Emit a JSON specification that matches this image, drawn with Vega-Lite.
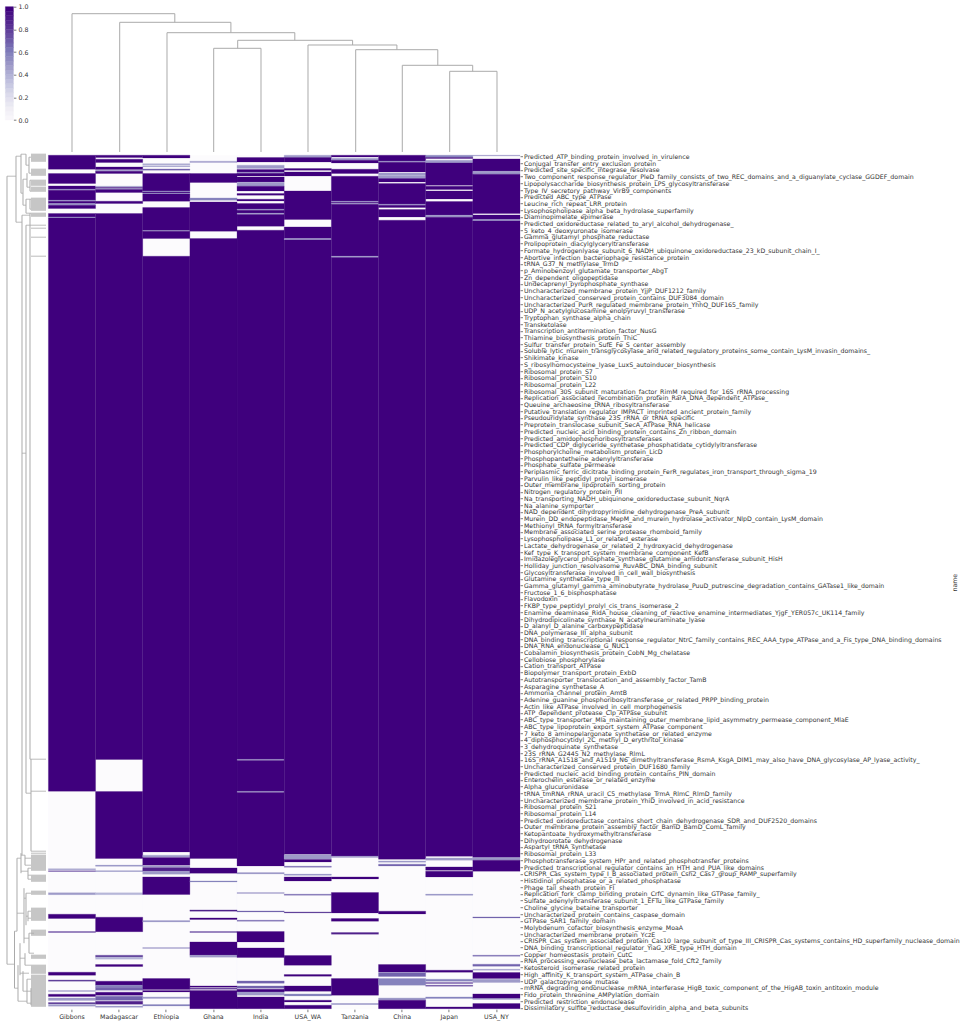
{"$schema":"https://vega.github.io/schema/vega-lite/v6.json","background":"white","padding":{"left":4.4,"top":3.7,"right":0,"bottom":0},"spacing":-1.5,"config":{"view":{"stroke":null},"font":"DejaVu Sans","axis":{"labelFont":"DejaVu Sans","labelColor":"#333333","tickColor":"#444444","tickWidth":0.7,"domain":false,"grid":false}},
"datasets":{"cells":[
{"s":"Gibbons","a":0,"b":854,"v":0},{"s":"Madagascar","a":0,"b":854,"v":0},{"s":"Ethiopia","a":0,"b":854,"v":0},{"s":"Ghana","a":0,"b":854,"v":0},{"s":"India","a":0,"b":854,"v":0},{"s":"USA_WA","a":0,"b":854,"v":0},{"s":"Tanzania","a":0,"b":854,"v":0},{"s":"China","a":0,"b":854,"v":0},{"s":"Japan","a":0,"b":854,"v":0},{"s":"USA_NY","a":0,"b":854,"v":0},
{"s":"Gibbons","a":0,"b":14,"v":1},{"s":"Gibbons","a":18.3,"b":28.3,"v":1},{"s":"Gibbons","a":30.7,"b":34,"v":1},{"s":"Gibbons","a":34,"b":35,"v":0.5},{"s":"Gibbons","a":35,"b":45,"v":1},{"s":"Gibbons","a":45,"b":46,"v":0.5},{"s":"Gibbons","a":46,"b":48.3,"v":1},{"s":"Gibbons","a":48.3,"b":50,"v":0.5},{"s":"Gibbons","a":50,"b":53.3,"v":1},{"s":"Gibbons","a":58.3,"b":61.7,"v":1},{"s":"Gibbons","a":61.7,"b":62.7,"v":0.5},{"s":"Gibbons","a":62.7,"b":636,"v":1},{"s":"Gibbons","a":713.5,"b":714.5,"v":0.5},{"s":"Gibbons","a":715.5,"b":716.3,"v":0.8},{"s":"Gibbons","a":737.5,"b":739.5,"v":0.5},{"s":"Gibbons","a":759,"b":763.3,"v":1},{"s":"Gibbons","a":776.3,"b":777.3,"v":0.8},{"s":"Gibbons","a":817,"b":820,"v":1},{"s":"Gibbons","a":824.7,"b":826,"v":0.8},{"s":"Gibbons","a":835.3,"b":836.3,"v":0.5},{"s":"Gibbons","a":839,"b":841.3,"v":1},{"s":"Gibbons","a":842.7,"b":845.3,"v":0.5},{"s":"Gibbons","a":847.3,"b":848.7,"v":0.8},{"s":"Gibbons","a":849.3,"b":851,"v":0.5},
{"s":"Madagascar","a":0,"b":2.3,"v":1},{"s":"Madagascar","a":4,"b":7.3,"v":1},{"s":"Madagascar","a":11.7,"b":14.3,"v":1},{"s":"Madagascar","a":15,"b":16,"v":0.5},{"s":"Madagascar","a":16,"b":18.3,"v":1},{"s":"Madagascar","a":31,"b":32,"v":0.5},{"s":"Madagascar","a":32.3,"b":33.3,"v":1},{"s":"Madagascar","a":33.3,"b":34.3,"v":0.5},{"s":"Madagascar","a":34.3,"b":37.3,"v":1},{"s":"Madagascar","a":46,"b":48.3,"v":1},{"s":"Madagascar","a":58.3,"b":604.3,"v":1},{"s":"Madagascar","a":636.3,"b":703.3,"v":1},{"s":"Madagascar","a":710,"b":711,"v":0.6},{"s":"Madagascar","a":715.5,"b":716.3,"v":0.6},{"s":"Madagascar","a":737.5,"b":739.5,"v":0.4},{"s":"Madagascar","a":762,"b":776.5,"v":1},{"s":"Madagascar","a":800,"b":802,"v":0.8},{"s":"Madagascar","a":802,"b":804,"v":0.4},{"s":"Madagascar","a":809.3,"b":811.3,"v":1},{"s":"Madagascar","a":826,"b":830,"v":1},{"s":"Madagascar","a":830,"b":832,"v":0.6},{"s":"Madagascar","a":832,"b":835,"v":0.7},{"s":"Madagascar","a":837,"b":840,"v":1},{"s":"Madagascar","a":841,"b":845,"v":0.7},{"s":"Madagascar","a":846,"b":849,"v":0.9},{"s":"Madagascar","a":851,"b":852,"v":0.6},
{"s":"Ethiopia","a":0,"b":2.7,"v":1},{"s":"Ethiopia","a":8.5,"b":9.5,"v":0.5},{"s":"Ethiopia","a":10.5,"b":11.5,"v":0.5},{"s":"Ethiopia","a":13.7,"b":15,"v":0.7},{"s":"Ethiopia","a":18.3,"b":35.7,"v":1},{"s":"Ethiopia","a":35.7,"b":36.7,"v":0.5},{"s":"Ethiopia","a":36.7,"b":37.7,"v":1},{"s":"Ethiopia","a":37.7,"b":38.7,"v":0.5},{"s":"Ethiopia","a":38.7,"b":46,"v":1},{"s":"Ethiopia","a":52.3,"b":75.3,"v":1},{"s":"Ethiopia","a":75.3,"b":76,"v":0.5},{"s":"Ethiopia","a":76,"b":83.3,"v":1},{"s":"Ethiopia","a":101,"b":696.7,"v":1},{"s":"Ethiopia","a":700,"b":701.7,"v":0.5},{"s":"Ethiopia","a":702.3,"b":710,"v":1},{"s":"Ethiopia","a":710.7,"b":711.7,"v":0.5},{"s":"Ethiopia","a":712.3,"b":716,"v":0.9},{"s":"Ethiopia","a":716,"b":719,"v":0.5},{"s":"Ethiopia","a":721.7,"b":739.3,"v":1},{"s":"Ethiopia","a":765.3,"b":766.7,"v":0.5},{"s":"Ethiopia","a":792.3,"b":793.3,"v":0.5},{"s":"Ethiopia","a":823.3,"b":834.3,"v":1},{"s":"Ethiopia","a":835.3,"b":836.7,"v":1},{"s":"Ethiopia","a":841.7,"b":843.3,"v":0.5},{"s":"Ethiopia","a":849.3,"b":850.7,"v":0.6},
{"s":"Ghana","a":6,"b":7.3,"v":0.5},{"s":"Ghana","a":18.3,"b":27.3,"v":1},{"s":"Ghana","a":42.7,"b":45,"v":0.6},{"s":"Ghana","a":46.7,"b":76,"v":1},{"s":"Ghana","a":83.3,"b":703.3,"v":1},{"s":"Ghana","a":712.7,"b":718,"v":1},{"s":"Ghana","a":725.7,"b":726.7,"v":0.6},{"s":"Ghana","a":754.7,"b":756,"v":0.9},{"s":"Ghana","a":762.7,"b":764.3,"v":1},{"s":"Ghana","a":776.3,"b":777.3,"v":0.8},{"s":"Ghana","a":786.7,"b":800,"v":1},{"s":"Ghana","a":800,"b":802,"v":0.5},{"s":"Ghana","a":830.7,"b":832,"v":1},{"s":"Ghana","a":833,"b":834,"v":0.9},{"s":"Ghana","a":835.3,"b":853.5,"v":1},
{"s":"India","a":2.3,"b":6.7,"v":1},{"s":"India","a":10,"b":13.3,"v":0.5},{"s":"India","a":14.3,"b":17,"v":1},{"s":"India","a":17,"b":18,"v":0.5},{"s":"India","a":18,"b":20.7,"v":1},{"s":"India","a":21.7,"b":26.7,"v":1},{"s":"India","a":27,"b":31,"v":0.5},{"s":"India","a":31,"b":35.7,"v":1},{"s":"India","a":38.3,"b":40,"v":1},{"s":"India","a":44,"b":45.7,"v":1},{"s":"India","a":48.3,"b":54,"v":1},{"s":"India","a":54,"b":55,"v":0.5},{"s":"India","a":55,"b":58,"v":1},{"s":"India","a":58,"b":59.3,"v":0.5},{"s":"India","a":59.3,"b":71,"v":1},{"s":"India","a":75,"b":604.2,"v":1},{"s":"India","a":604.2,"b":605.2,"v":0.5},{"s":"India","a":605.2,"b":636.2,"v":1},{"s":"India","a":636.2,"b":637.2,"v":0.5},{"s":"India","a":637.2,"b":710.7,"v":1},{"s":"India","a":717.3,"b":718.7,"v":0.5},{"s":"India","a":737.3,"b":738.3,"v":0.5},{"s":"India","a":755.7,"b":756.7,"v":0.7},{"s":"India","a":765,"b":766,"v":0.7},{"s":"India","a":776.3,"b":786.7,"v":1},{"s":"India","a":792.7,"b":802.3,"v":1},{"s":"India","a":825.7,"b":828,"v":0.7},{"s":"India","a":830.7,"b":833,"v":0.7},{"s":"India","a":834,"b":836.7,"v":1},{"s":"India","a":836.7,"b":840,"v":0.5},{"s":"India","a":841.7,"b":853.5,"v":1},
{"s":"USA_WA","a":0,"b":2.3,"v":0.5},{"s":"USA_WA","a":2.3,"b":6.7,"v":1},{"s":"USA_WA","a":13.3,"b":15,"v":1},{"s":"USA_WA","a":16.7,"b":20.7,"v":1},{"s":"USA_WA","a":35.7,"b":64.3,"v":1},{"s":"USA_WA","a":71.7,"b":83.3,"v":1},{"s":"USA_WA","a":83.3,"b":84.7,"v":0.5},{"s":"USA_WA","a":84.7,"b":699,"v":1},{"s":"USA_WA","a":699.5,"b":704,"v":0.5},{"s":"USA_WA","a":704.3,"b":706.7,"v":1},{"s":"USA_WA","a":711,"b":712,"v":0.7},{"s":"USA_WA","a":719,"b":720,"v":0.6},{"s":"USA_WA","a":721.7,"b":725.7,"v":1},{"s":"USA_WA","a":739,"b":740,"v":0.7},{"s":"USA_WA","a":756.7,"b":757.7,"v":0.8},{"s":"USA_WA","a":800.3,"b":810,"v":1},{"s":"USA_WA","a":819.3,"b":821,"v":1},{"s":"USA_WA","a":830.7,"b":836,"v":1},{"s":"USA_WA","a":838.7,"b":840.7,"v":0.6},{"s":"USA_WA","a":845,"b":846.7,"v":1},{"s":"USA_WA","a":850,"b":853.5,"v":1},
{"s":"Tanzania","a":0,"b":1.7,"v":1},{"s":"Tanzania","a":3,"b":5,"v":0.5},{"s":"Tanzania","a":5,"b":7.7,"v":1},{"s":"Tanzania","a":14,"b":18.3,"v":1},{"s":"Tanzania","a":21,"b":46,"v":1},{"s":"Tanzania","a":46,"b":47,"v":0.5},{"s":"Tanzania","a":47,"b":48,"v":1},{"s":"Tanzania","a":48,"b":49,"v":0.5},{"s":"Tanzania","a":49,"b":101,"v":1},{"s":"Tanzania","a":101,"b":102.3,"v":0.5},{"s":"Tanzania","a":102.3,"b":701,"v":1},{"s":"Tanzania","a":701,"b":702.3,"v":0.5},{"s":"Tanzania","a":721.7,"b":723.7,"v":1},{"s":"Tanzania","a":737.3,"b":757.7,"v":1},{"s":"Tanzania","a":763.3,"b":766,"v":1},{"s":"Tanzania","a":777.3,"b":779,"v":0.9},{"s":"Tanzania","a":823.3,"b":840,"v":1},{"s":"Tanzania","a":848.3,"b":849.3,"v":0.6},
{"s":"China","a":0,"b":6,"v":1},{"s":"China","a":6,"b":7,"v":0.5},{"s":"China","a":7,"b":16.7,"v":1},{"s":"China","a":17.7,"b":20,"v":0.5},{"s":"China","a":20.3,"b":23.3,"v":0.5},{"s":"China","a":23.3,"b":26.7,"v":1},{"s":"China","a":28.3,"b":49,"v":1},{"s":"China","a":49,"b":50,"v":0.5},{"s":"China","a":50,"b":52.3,"v":1},{"s":"China","a":54.3,"b":61.7,"v":1},{"s":"China","a":65,"b":704,"v":1},{"s":"China","a":705.7,"b":707,"v":0.5},{"s":"China","a":709,"b":710.7,"v":0.7},{"s":"China","a":756,"b":758.7,"v":1},{"s":"China","a":809.3,"b":816.7,"v":1},{"s":"China","a":817.3,"b":821.3,"v":0.7},{"s":"China","a":823.3,"b":830,"v":0.6},{"s":"China","a":842.7,"b":845,"v":0.5},{"s":"China","a":845,"b":853.5,"v":1},
{"s":"Japan","a":0,"b":2.3,"v":0.6},{"s":"Japan","a":2.3,"b":3.3,"v":1},{"s":"Japan","a":5,"b":7.7,"v":0.5},{"s":"Japan","a":7.7,"b":30,"v":1},{"s":"Japan","a":31,"b":34.3,"v":1},{"s":"Japan","a":35.7,"b":43.7,"v":1},{"s":"Japan","a":46.3,"b":60,"v":1},{"s":"Japan","a":60,"b":62,"v":0.5},{"s":"Japan","a":62,"b":701,"v":1},{"s":"Japan","a":702.7,"b":705,"v":0.5},{"s":"Japan","a":711.7,"b":715,"v":1},{"s":"Japan","a":716,"b":721.7,"v":1},{"s":"Japan","a":739,"b":740,"v":0.6},{"s":"Japan","a":815,"b":817,"v":1},{"s":"Japan","a":824,"b":826,"v":0.6},{"s":"Japan","a":827.3,"b":828.3,"v":0.8},{"s":"Japan","a":830,"b":831,"v":0.8},{"s":"Japan","a":841.7,"b":843.3,"v":0.6},{"s":"Japan","a":851.7,"b":853.5,"v":1},
{"s":"USA_NY","a":0,"b":0.7,"v":0.5},{"s":"USA_NY","a":3.7,"b":16,"v":1},{"s":"USA_NY","a":16,"b":19,"v":0.5},{"s":"USA_NY","a":19,"b":58.3,"v":1},{"s":"USA_NY","a":59.7,"b":64.3,"v":1},{"s":"USA_NY","a":64.3,"b":65.7,"v":0.5},{"s":"USA_NY","a":65.7,"b":702.3,"v":1},{"s":"USA_NY","a":702.3,"b":705,"v":0.5},{"s":"USA_NY","a":705,"b":716,"v":1},{"s":"USA_NY","a":761.7,"b":762.7,"v":0.7},{"s":"USA_NY","a":800,"b":801,"v":0.7},{"s":"USA_NY","a":809,"b":811,"v":0.7},{"s":"USA_NY","a":814,"b":815,"v":0.5},{"s":"USA_NY","a":817.3,"b":823.3,"v":1},{"s":"USA_NY","a":824,"b":827.3,"v":0.5},{"s":"USA_NY","a":838.7,"b":843.3,"v":1},{"s":"USA_NY","a":843.3,"b":844.3,"v":0.5},{"s":"USA_NY","a":848.3,"b":853.5,"v":1}
],
"names":[{"name":"Predicted_ATP_binding_protein_involved_in_virulence"},{"name":"Conjugal_transfer_entry_exclusion_protein"},{"name":"Predicted_site_specific_integrase_resolvase"},{"name":"Two_component_response_regulator_PleD_family_consists_of_two_REC_domains_and_a_diguanylate_cyclase_GGDEF_domain"},{"name":"Lipopolysaccharide_biosynthesis_protein_LPS_glycosyltransferase"},{"name":"Type_IV_secretory_pathway_VirB9_components"},{"name":"Predicted_ABC_type_ATPase"},{"name":"Leucine_rich_repeat_LRR_protein"},{"name":"Lysophospholipase_alpha_beta_hydrolase_superfamily"},{"name":"Diaminopimelate_epimerase"},{"name":"Predicted_oxidoreductase_related_to_aryl_alcohol_dehydrogenase_"},{"name":"5_keto_4_deoxyuronate_isomerase"},{"name":"Gamma_glutamyl_phosphate_reductase"},{"name":"Prolipoprotein_diacylglyceryltransferase"},{"name":"Formate_hydrogenlyase_subunit_6_NADH_ubiquinone_oxidoreductase_23_kD_subunit_chain_I_"},{"name":"Abortive_infection_bacteriophage_resistance_protein"},{"name":"tRNA_G37_N_methylase_TrmD"},{"name":"p_Aminobenzoyl_glutamate_transporter_AbgT"},{"name":"Zn_dependent_oligopeptidase"},{"name":"Undecaprenyl_pyrophosphate_synthase"},{"name":"Uncharacterized_membrane_protein_YjjP_DUF1212_family"},{"name":"Uncharacterized_conserved_protein_contains_DUF3084_domain"},{"name":"Uncharacterized_PurR_regulated_membrane_protein_YhhQ_DUF165_family"},{"name":"UDP_N_acetylglucosamine_enolpyruvyl_transferase"},{"name":"Tryptophan_synthase_alpha_chain"},{"name":"Transketolase"},{"name":"Transcription_antitermination_factor_NusG"},{"name":"Thiamine_biosynthesis_protein_ThiC"},{"name":"Sulfur_transfer_protein_SufE_Fe_S_center_assembly"},{"name":"Soluble_lytic_murein_transglycosylase_and_related_regulatory_proteins_some_contain_LysM_invasin_domains_"},{"name":"Shikimate_kinase"},{"name":"S_ribosylhomocysteine_lyase_LuxS_autoinducer_biosynthesis"},{"name":"Ribosomal_protein_S7"},{"name":"Ribosomal_protein_S10"},{"name":"Ribosomal_protein_L22"},{"name":"Ribosomal_30S_subunit_maturation_factor_RimM_required_for_16S_rRNA_processing"},{"name":"Replication_associated_recombination_protein_RarA_DNA_dependent_ATPase_"},{"name":"Queuine_archaeosine_tRNA_ribosyltransferase"},{"name":"Putative_translation_regulator_IMPACT_imprinted_ancient_protein_family"},{"name":"Pseudouridylate_synthase_23S_rRNA_or_tRNA_specific"},{"name":"Preprotein_translocase_subunit_SecA_ATPase_RNA_helicase"},{"name":"Predicted_nucleic_acid_binding_protein_contains_Zn_ribbon_domain"},{"name":"Predicted_amidophosphoribosyltransferases"},{"name":"Predicted_CDP_diglyceride_synthetase_phosphatidate_cytidylyltransferase"},{"name":"Phosphorylcholine_metabolism_protein_LicD"},{"name":"Phosphopantetheine_adenylyltransferase"},{"name":"Phosphate_sulfate_permease"},{"name":"Periplasmic_ferric_dicitrate_binding_protein_FerR_regulates_iron_transport_through_sigma_19"},{"name":"Parvulin_like_peptidyl_prolyl_isomerase"},{"name":"Outer_membrane_lipoprotein_sorting_protein"},{"name":"Nitrogen_regulatory_protein_PII"},{"name":"Na_transporting_NADH_ubiquinone_oxidoreductase_subunit_NqrA"},{"name":"Na_alanine_symporter"},{"name":"NAD_dependent_dihydropyrimidine_dehydrogenase_PreA_subunit"},{"name":"Murein_DD_endopeptidase_MepM_and_murein_hydrolase_activator_NlpD_contain_LysM_domain"},{"name":"Methionyl_tRNA_formyltransferase"},{"name":"Membrane_associated_serine_protease_rhomboid_family"},{"name":"Lysophospholipase_L1_or_related_esterase"},{"name":"Lactate_dehydrogenase_or_related_2_hydroxyacid_dehydrogenase"},{"name":"Kef_type_K_transport_system_membrane_component_KefB"},{"name":"Imidazoleglycerol_phosphate_synthase_glutamine_amidotransferase_subunit_HisH"},{"name":"Holliday_junction_resolvasome_RuvABC_DNA_binding_subunit"},{"name":"Glycosyltransferase_involved_in_cell_wall_biosynthesis"},{"name":"Glutamine_synthetase_type_III"},{"name":"Gamma_glutamyl_gamma_aminobutyrate_hydrolase_PuuD_putrescine_degradation_contains_GATase1_like_domain"},{"name":"Fructose_1_6_bisphosphatase"},{"name":"Flavodoxin"},{"name":"FKBP_type_peptidyl_prolyl_cis_trans_isomerase_2"},{"name":"Enamine_deaminase_RidA_house_cleaning_of_reactive_enamine_intermediates_YjgF_YER057c_UK114_family"},{"name":"Dihydrodipicolinate_synthase_N_acetylneuraminate_lyase"},{"name":"D_alanyl_D_alanine_carboxypeptidase"},{"name":"DNA_polymerase_III_alpha_subunit"},{"name":"DNA_binding_transcriptional_response_regulator_NtrC_family_contains_REC_AAA_type_ATPase_and_a_Fis_type_DNA_binding_domains"},{"name":"DNA_RNA_endonuclease_G_NUC1"},{"name":"Cobalamin_biosynthesis_protein_CobN_Mg_chelatase"},{"name":"Cellobiose_phosphorylase"},{"name":"Cation_transport_ATPase"},{"name":"Biopolymer_transport_protein_ExbD"},{"name":"Autotransporter_translocation_and_assembly_factor_TamB"},{"name":"Asparagine_synthetase_A"},{"name":"Ammonia_channel_protein_AmtB"},{"name":"Adenine_guanine_phosphoribosyltransferase_or_related_PRPP_binding_protein"},{"name":"Actin_like_ATPase_involved_in_cell_morphogenesis"},{"name":"ATP_dependent_protease_Clp_ATPase_subunit"},{"name":"ABC_type_transporter_Mla_maintaining_outer_membrane_lipid_asymmetry_permease_component_MlaE"},{"name":"ABC_type_lipoprotein_export_system_ATPase_component"},{"name":"7_keto_8_aminopelargonate_synthetase_or_related_enzyme"},{"name":"4_diphosphocytidyl_2C_methyl_D_erythritol_kinase"},{"name":"3_dehydroquinate_synthetase"},{"name":"23S_rRNA_G2445_N2_methylase_RlmL"},{"name":"16S_rRNA_A1518_and_A1519_N6_dimethyltransferase_RsmA_KsgA_DIM1_may_also_have_DNA_glycosylase_AP_lyase_activity_"},{"name":"Uncharacterized_conserved_protein_DUF1680_family"},{"name":"Predicted_nucleic_acid_binding_protein_contains_PIN_domain"},{"name":"Enterochelin_esterase_or_related_enzyme"},{"name":"Alpha_glucuronidase"},{"name":"tRNA_tmRNA_rRNA_uracil_C5_methylase_TrmA_RlmC_RlmD_family"},{"name":"Uncharacterized_membrane_protein_YhiD_involved_in_acid_resistance"},{"name":"Ribosomal_protein_S21"},{"name":"Ribosomal_protein_L14"},{"name":"Predicted_oxidoreductase_contains_short_chain_dehydrogenase_SDR_and_DUF2520_domains"},{"name":"Outer_membrane_protein_assembly_factor_BamD_BamD_ComL_family"},{"name":"Ketopantoate_hydroxymethyltransferase"},{"name":"Dihydroorotate_dehydrogenase"},{"name":"Aspartyl_tRNA_synthetase"},{"name":"Ribosomal_protein_L33"},{"name":"Phosphotransferase_system_HPr_and_related_phosphotransfer_proteins"},{"name":"Predicted_transcriptional_regulator_contains_an_HTH_and_PUA_like_domains"},{"name":"CRISPR_Cas_system_type_I_B_associated_protein_Csh2_Cas7_group_RAMP_superfamily"},{"name":"Histidinol_phosphatase_or_a_related_phosphatase"},{"name":"Phage_tail_sheath_protein_FI"},{"name":"Replication_fork_clamp_binding_protein_CrfC_dynamin_like_GTPase_family_"},{"name":"Sulfate_adenylyltransferase_subunit_1_EFTu_like_GTPase_family"},{"name":"Choline_glycine_betaine_transporter"},{"name":"Uncharacterized_protein_contains_caspase_domain"},{"name":"GTPase_SAR1_family_domain"},{"name":"Molybdenum_cofactor_biosynthesis_enzyme_MoaA"},{"name":"Uncharacterized_membrane_protein_YczE"},{"name":"CRISPR_Cas_system_associated_protein_Cas10_large_subunit_of_type_III_CRISPR_Cas_systems_contains_HD_superfamily_nuclease_domain"},{"name":"DNA_binding_transcriptional_regulator_YiaG_XRE_type_HTH_domain"},{"name":"Copper_homeostasis_protein_CutC"},{"name":"RNA_processing_exonuclease_beta_lactamase_fold_Cft2_family"},{"name":"Ketosteroid_isomerase_related_protein"},{"name":"High_affinity_K_transport_system_ATPase_chain_B"},{"name":"UDP_galactopyranose_mutase"},{"name":"mRNA_degrading_endonuclease_mRNA_interferase_HigB_toxic_component_of_the_HigAB_toxin_antitoxin_module"},{"name":"Fido_protein_threonine_AMPylation_domain"},{"name":"Predicted_restriction_endonuclease"},{"name":"Dissimilatory_sulfite_reductase_desulfoviridin_alpha_and_beta_subunits"}],
"scale":[{"a":0,"b":0.04},{"a":0.04,"b":0.08},{"a":0.08,"b":0.12},{"a":0.12,"b":0.16},{"a":0.16,"b":0.2},{"a":0.2,"b":0.24},{"a":0.24,"b":0.28},{"a":0.28,"b":0.32},{"a":0.32,"b":0.36},{"a":0.36,"b":0.4},{"a":0.4,"b":0.44},{"a":0.44,"b":0.48},{"a":0.48,"b":0.52},{"a":0.52,"b":0.56},{"a":0.56,"b":0.6},{"a":0.6,"b":0.64},{"a":0.64,"b":0.68},{"a":0.68,"b":0.72},{"a":0.72,"b":0.76},{"a":0.76,"b":0.8},{"a":0.8,"b":0.84},{"a":0.84,"b":0.88},{"a":0.88,"b":0.92},{"a":0.92,"b":0.96},{"a":0.96,"b":1}],
"colV":[{"x":70.6,"a":13.7,"b":152},{"x":173.4,"a":13.7,"b":22.3},{"x":118.3,"a":22.3,"b":152},{"x":229.5,"a":22.3,"b":32.7},{"x":165.6,"a":32.7,"b":152},{"x":293.4,"a":32.7,"b":40.3},{"x":236.3,"a":40.3,"b":48.3},{"x":351.2,"a":40.3,"b":45},{"x":212.3,"a":48.3,"b":152},{"x":259.6,"a":48.3,"b":152},{"x":306.6,"a":45,"b":152},{"x":395.5,"a":45,"b":49.7},{"x":354.3,"a":49.7,"b":152},{"x":436.4,"a":49.7,"b":65.3},{"x":400.9,"a":65.3,"b":152},{"x":471.3,"a":65.3,"b":71.3},{"x":448.3,"a":71.3,"b":152},{"x":495.6,"a":71.3,"b":152}],
"colH":[{"y":13.7,"a":70.6,"b":173.4},{"y":22.3,"a":118.3,"b":229.5},{"y":32.7,"a":165.6,"b":293.4},{"y":40.3,"a":236.3,"b":351.2},{"y":48.3,"a":212.3,"b":259.6},{"y":45,"a":306.6,"b":395.5},{"y":49.7,"a":354.3,"b":436.4},{"y":65.3,"a":400.9,"b":471.3},{"y":71.3,"a":448.3,"b":495.6}],
"rowV":[{"x":6,"a":23,"b":811},{"x":15,"a":3,"b":69},{"x":20,"a":1,"b":40},{"x":25,"a":1,"b":12},{"x":28,"a":4,"b":20},{"x":22,"a":26,"b":52},{"x":26,"a":20,"b":34},{"x":29,"a":27,"b":38},{"x":25,"a":46,"b":60},{"x":29,"a":46,"b":56},{"x":21,"a":62,"b":702},{"x":25,"a":72,"b":640},{"x":29,"a":60,"b":606},{"x":30,"a":606,"b":698},{"x":13.5,"a":778,"b":835},{"x":16,"a":705,"b":778},{"x":20,"a":700,"b":720},{"x":24,"a":702,"b":712},{"x":27,"a":715,"b":726},{"x":23,"a":735,"b":790},{"x":25,"a":740,"b":772},{"x":27,"a":758,"b":768},{"x":28,"a":780,"b":800},{"x":19,"a":790,"b":822},{"x":24,"a":800,"b":812},{"x":17,"a":812,"b":848},{"x":22,"a":818,"b":838},{"x":26,"a":826,"b":850},{"x":30,"a":835,"b":852}],
"rowH":[{"r":23,"a":6,"b":15},{"r":811,"a":6,"b":13.5},{"r":3,"a":15,"b":20},{"r":69,"a":15,"b":21},{"r":1,"a":20,"b":25},{"r":40,"a":20,"b":22},{"r":12,"a":25,"b":28},{"r":26,"a":22,"b":26},{"r":52,"a":22,"b":25},{"r":34,"a":26,"b":29},{"r":62,"a":21,"b":29},{"r":300,"a":21,"b":25},{"r":640,"a":25,"b":30},{"r":778,"a":13.5,"b":16},{"r":835,"a":13.5,"b":17},{"r":705,"a":16,"b":20},{"r":760,"a":16,"b":23},{"r":702,"a":20,"b":24},{"r":718,"a":20,"b":27},{"r":745,"a":23,"b":25},{"r":785,"a":23,"b":28},{"r":763,"a":25,"b":27},{"r":780,"a":28,"b":33},{"r":800,"a":28,"b":33},{"r":805,"a":19,"b":24},{"r":820,"a":19,"b":28},{"r":812,"a":24,"b":30},{"r":848,"a":17,"b":26},{"r":838,"a":22,"b":30},{"r":726,"a":27,"b":30},
{"r":1,"a":30,"b":45},{"r":2,"a":30,"b":45},{"r":3,"a":30,"b":45},{"r":4,"a":28,"b":45},{"r":5,"a":30,"b":45},{"r":6,"a":30,"b":45},{"r":7,"a":30,"b":45},{"r":8,"a":30,"b":45},{"r":16,"a":30,"b":45},{"r":17,"a":30,"b":45},{"r":18,"a":30,"b":45},{"r":19,"a":30,"b":45},{"r":20,"a":28,"b":45},{"r":21,"a":30,"b":45},{"r":22,"a":30,"b":45},{"r":27,"a":29,"b":45},{"r":28,"a":30,"b":45},{"r":29,"a":30,"b":45},{"r":30,"a":30,"b":45},{"r":31,"a":30,"b":45},{"r":32,"a":30,"b":45},{"r":34,"a":30,"b":45},{"r":35,"a":30,"b":45},{"r":36,"a":30,"b":45},{"r":37,"a":30,"b":45},{"r":38,"a":29,"b":45},{"r":45,"a":30,"b":45},{"r":46,"a":25,"b":45},{"r":47,"a":30,"b":45},{"r":48,"a":30,"b":45},{"r":49,"a":30,"b":45},{"r":50,"a":30,"b":45},{"r":51,"a":30,"b":45},{"r":52,"a":30,"b":45},{"r":53,"a":30,"b":45},{"r":54,"a":30,"b":45},{"r":55,"a":30,"b":45},{"r":56,"a":29,"b":45},{"r":57,"a":30,"b":45},{"r":60,"a":25,"b":45},{"r":61,"a":30,"b":45},{"r":62,"a":30,"b":45},{"r":63,"a":30,"b":45},{"r":72,"a":25,"b":45},{"r":75,"a":30,"b":45},{"r":84,"a":30,"b":45},{"r":103,"a":30,"b":45},{"r":606,"a":29,"b":45},{"r":638,"a":30,"b":45},{"r":698,"a":30,"b":45},
{"r":700,"a":30,"b":45},{"r":702,"a":30,"b":45},{"r":703,"a":30,"b":45},{"r":704,"a":30,"b":45},{"r":705,"a":24,"b":45},{"r":706,"a":30,"b":45},{"r":707,"a":30,"b":45},{"r":708,"a":30,"b":45},{"r":709,"a":30,"b":45},{"r":710,"a":30,"b":45},{"r":711,"a":30,"b":45},{"r":712,"a":24,"b":45},{"r":713,"a":30,"b":45},{"r":714,"a":30,"b":45},{"r":715,"a":27,"b":45},{"r":716,"a":30,"b":45},{"r":717,"a":30,"b":45},{"r":722,"a":27,"b":45},{"r":723,"a":30,"b":45},{"r":724,"a":30,"b":45},{"r":725,"a":30,"b":45},{"r":726,"a":30,"b":45},{"r":727,"a":30,"b":45},{"r":728,"a":30,"b":45},{"r":738,"a":30,"b":45},{"r":739,"a":30,"b":45},{"r":740,"a":25,"b":45},{"r":741,"a":30,"b":45},{"r":755,"a":30,"b":45},{"r":756,"a":30,"b":45},{"r":757,"a":30,"b":45},{"r":758,"a":27,"b":45},{"r":759,"a":30,"b":45},{"r":760,"a":30,"b":45},{"r":761,"a":30,"b":45},{"r":762,"a":30,"b":45},{"r":763,"a":30,"b":45},{"r":764,"a":30,"b":45},{"r":765,"a":27,"b":45},{"r":766,"a":30,"b":45},{"r":767,"a":30,"b":45},{"r":777,"a":30,"b":45},{"r":778,"a":30,"b":45},{"r":779,"a":30,"b":45},{"r":780,"a":30,"b":45},{"r":781,"a":30,"b":45},{"r":782,"a":30,"b":45},{"r":802,"a":30,"b":45},{"r":803,"a":30,"b":45},{"r":804,"a":30,"b":45},{"r":805,"a":30,"b":45},
{"r":812,"a":30,"b":45},{"r":813,"a":30,"b":45},{"r":814,"a":30,"b":45},{"r":815,"a":30,"b":45},{"r":816,"a":30,"b":45},{"r":817,"a":30,"b":45},{"r":818,"a":30,"b":45},{"r":819,"a":30,"b":45},{"r":820,"a":30,"b":45},{"r":822,"a":30,"b":45},{"r":823,"a":30,"b":45},{"r":824,"a":30,"b":45},{"r":825,"a":30,"b":45},{"r":826,"a":26,"b":45},{"r":827,"a":30,"b":45},{"r":828,"a":30,"b":45},{"r":829,"a":30,"b":45},{"r":830,"a":30,"b":45},{"r":831,"a":30,"b":45},{"r":832,"a":30,"b":45},{"r":833,"a":30,"b":45},{"r":834,"a":30,"b":45},{"r":835,"a":30,"b":45},{"r":836,"a":30,"b":45},{"r":837,"a":30,"b":45},{"r":838,"a":30,"b":45},{"r":839,"a":30,"b":45},{"r":840,"a":30,"b":45},{"r":841,"a":30,"b":45},{"r":842,"a":30,"b":45},{"r":843,"a":30,"b":45},{"r":844,"a":30,"b":45},{"r":845,"a":30,"b":45},{"r":846,"a":30,"b":45},{"r":847,"a":30,"b":45},{"r":848,"a":30,"b":45},{"r":849,"a":30,"b":45},{"r":850,"a":26,"b":45},{"r":851,"a":30,"b":45},{"r":852,"a":30,"b":45},{"r":853,"a":30,"b":45}]},
"hconcat":[
{"spacing":0.5,"vconcat":[
{"width":42.6,"height":145.3,"data":{"name":"scale"},"mark":{"type":"rect","strokeWidth":0.4},"encoding":{"x":{"datum":0,"type":"quantitative","scale":{"domain":[0,42.6],"nice":false},"axis":null},"x2":{"datum":8},"y":{"field":"a","type":"quantitative","scale":{"domain":[-0.2824,1],"nice":false,"zero":false},"axis":{"orient":"right","offset":-34.6,"values":[0,0.2,0.4,0.6,0.8,1],"format":".1f","title":null,"labelFontSize":6.3,"tickSize":2.5,"labelPadding":2}},"y2":{"field":"b"},"color":{"field":"b","type":"quantitative","scale":{"domain":[0,1],"range":["#fcfbfd","#efedf5","#dadaeb","#bcbddc","#9e9ac8","#807dba","#6a51a3","#54278f","#3f007d"]},"legend":null},"stroke":{"field":"b","type":"quantitative","scale":{"domain":[0,1],"range":["#fcfbfd","#efedf5","#dadaeb","#bcbddc","#9e9ac8","#807dba","#6a51a3","#54278f","#3f007d"]},"legend":null}}},
{"width":42.6,"height":854,"layer":[
{"data":{"name":"rowV"},"mark":{"type":"rule","color":"#aaaaaa","strokeWidth":1},"encoding":{"x":{"field":"x","type":"quantitative","scale":{"domain":[4.4,47],"nice":false,"zero":false},"axis":null},"y":{"field":"a","type":"quantitative","scale":{"domain":[0,854],"reverse":true,"nice":false},"axis":null},"y2":{"field":"b"}}},
{"data":{"name":"rowH"},"mark":{"type":"rule","color":"#aaaaaa","strokeWidth":0.8},"encoding":{"x":{"field":"a","type":"quantitative","scale":{"domain":[4.4,47],"nice":false,"zero":false},"axis":null},"x2":{"field":"b"},"y":{"field":"r","type":"quantitative","scale":{"domain":[0,854],"reverse":true,"nice":false},"axis":null}}}
]}
]},
{"spacing":0.5,"vconcat":[
{"width":471.6,"height":145.3,"layer":[
{"data":{"name":"colV"},"mark":{"type":"rule","color":"#aaaaaa","strokeWidth":1},"encoding":{"x":{"field":"x","type":"quantitative","scale":{"domain":[47,518.6],"nice":false,"zero":false},"axis":null},"y":{"field":"a","type":"quantitative","scale":{"domain":[6.7,152],"reverse":true,"nice":false,"zero":false},"axis":null},"y2":{"field":"b"}}},
{"data":{"name":"colH"},"mark":{"type":"rule","color":"#aaaaaa","strokeWidth":1},"encoding":{"x":{"field":"a","type":"quantitative","scale":{"domain":[47,518.6],"nice":false,"zero":false},"axis":null},"x2":{"field":"b"},"y":{"field":"y","type":"quantitative","scale":{"domain":[6.7,152],"reverse":true,"nice":false,"zero":false},"axis":null}}}
]},
{"width":471.6,"height":854,"resolve":{"scale":{"y":"independent"},"axis":{"y":"independent"}},"layer":[
{"data":{"name":"cells"},"mark":{"type":"rect","strokeWidth":0.25},"encoding":{"x":{"field":"s","type":"nominal","sort":["Gibbons","Madagascar","Ethiopia","Ghana","India","USA_WA","Tanzania","China","Japan","USA_NY"],"scale":{"paddingInner":0,"paddingOuter":0},"axis":{"title":null,"labelAngle":0,"labelFontSize":6.3,"tickSize":2.5,"labelPadding":2}},"y":{"field":"a","type":"quantitative","scale":{"domain":[0,854],"reverse":true,"nice":false},"axis":null},"y2":{"field":"b"},"color":{"field":"v","type":"quantitative","scale":{"domain":[0,1],"range":["#fcfbfd","#efedf5","#dadaeb","#bcbddc","#9e9ac8","#807dba","#6a51a3","#54278f","#3f007d"]},"legend":null},"stroke":{"field":"v","type":"quantitative","scale":{"domain":[0,1],"range":["#fcfbfd","#efedf5","#dadaeb","#bcbddc","#9e9ac8","#807dba","#6a51a3","#54278f","#3f007d"]},"legend":null}}},
{"data":{"name":"names"},"mark":{"type":"point","opacity":0},"encoding":{"y":{"field":"name","type":"nominal","sort":null,"scale":{"type":"point","padding":0.2},"axis":{"orient":"right","title":"name","titleFontSize":6.3,"titleFontWeight":"normal","titleAngle":270,"titleColor":"#333333","titleX":438,"titleY":427,"labelFontSize":6.25,"labelLimit":500,"labelOverlap":false,"tickSize":2.5,"labelPadding":1}}}}
]}
]}
]}
